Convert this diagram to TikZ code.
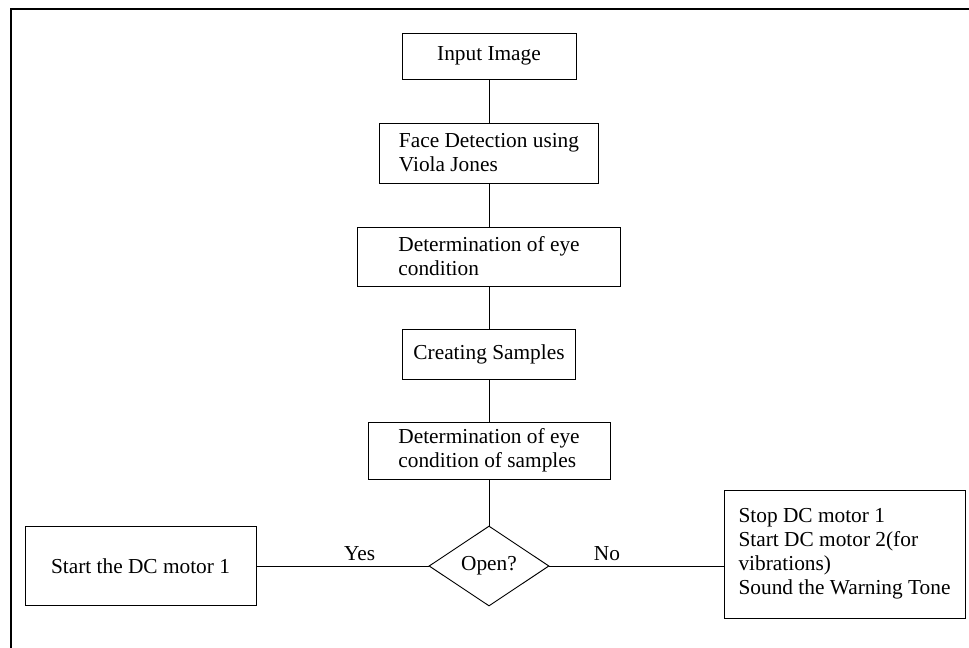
\documentclass[tikz,border=0pt]{standalone}
\usepackage{fontspec}
\setmainfont{Liberation Serif}
\usetikzlibrary{shapes.geometric}

\begin{document}
\begin{tikzpicture}[x=0.75pt, y=-0.75pt, font=\fontsize{16}{18}\selectfont, line width=0.7pt,
	stepbox/.style={draw, rectangle, align=left, inner sep=0pt},
	decision/.style={draw, diamond, aspect=1.5, inner sep=0pt, minimum width=90pt, minimum height=60pt}]
	\useasboundingbox (0,0) rectangle (969,648);
	\draw[line width=1.2pt] (11,648) -- (11,9) -- (969,9);
	\node[stepbox, minimum width=130.5pt, minimum height=34.5pt] (input) at (489,56) {Input Image};
	\node[stepbox, minimum width=164.25pt, minimum height=45pt] (face) at (489,153) {Face Detection using\\Viola Jones};
	\node[stepbox, minimum width=197.25pt, minimum height=44.25pt] (eye) at (489,256.5) {Determination of eye\\condition};
	\node[stepbox, minimum width=129.75pt, minimum height=37.5pt] (samples) at (489,354) {Creating Samples};
	\node[stepbox, minimum width=181.5pt, minimum height=42.75pt] (eyesamples) at (489,450.5) {Determination of eye\\condition of samples};
	\node[decision] (open) at (489,566) {Open?};
	\node[stepbox, minimum width=173.25pt, minimum height=59.25pt] (start) at (140.5,566) {Start the DC motor 1};
	\node[stepbox, minimum width=180.75pt, minimum height=96pt] (stop) at (844.5,554) {Stop DC motor 1\\Start DC motor 2(for\\vibrations)\\Sound the Warning Tone};
	\draw (input) -- (face);
	\draw (face) -- (eye);
	\draw (eye) -- (samples);
	\draw (samples) -- (eyesamples);
	\draw (eyesamples) -- (open);
	\draw (start) -- node[pos=.6, above] {Yes} (open);
	\draw (open.east) -- node[pos=.33, above] {No} (open.east -| stop.west);
\end{tikzpicture}
\end{document}
